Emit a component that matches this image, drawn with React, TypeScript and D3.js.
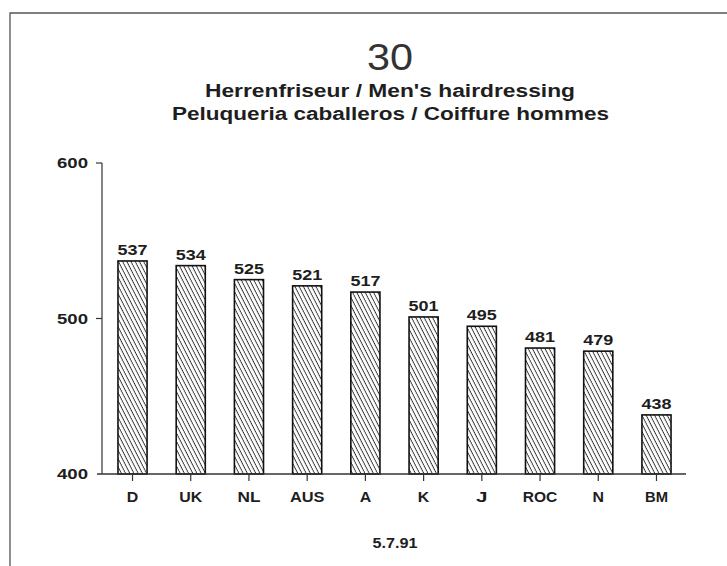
import React from "react";
import * as d3 from "d3";

const categories: string[] = ["D", "UK", "NL", "AUS", "A", "K", "J", "ROC", "N", "BM"];
const values: number[] = [537, 534, 525, 521, 517, 501, 495, 481, 479, 438];
const yTicks: number[] = [400, 500, 600];
const titleNumber = "30";
const subtitle1 = "Herrenfriseur / Men's hairdressing";
const subtitle2 = "Peluqueria caballeros / Coiffure hommes";
const dateLabel = "5.7.91";

const W = 727;
const H = 566;
const FONT = "'Liberation Sans', Arial, Helvetica, sans-serif";
const INK = "#1e1e1e";

export default function App() {
  const y = d3.scaleLinear().domain([400, 600]).range([474, 163]);
  const x = d3
    .scaleBand<string>()
    .domain(categories)
    .range([100.5, 688.5])
    .paddingInner(0.5)
    .paddingOuter(0.3);
  const bw = x.bandwidth();
  const axisX = 102;
  const baseY = y(400);

  return (
    <svg
      width={W}
      height={H}
      viewBox={`0 0 ${W} ${H}`}
      style={{ position: "absolute", left: 0, top: 0, background: "#fff" }}
    >
      <defs>
        <pattern
          id="hatch"
          patternUnits="userSpaceOnUse"
          width={4.2}
          height={4}
          patternTransform="skewX(27)"
        >
          <line x1={2} y1={0} x2={2} y2={4} stroke="#2a2a2a" strokeWidth={1} />
        </pattern>
      </defs>
      <rect x={0} y={0} width={W} height={H} fill="#fff" />
      {/* frame */}
      <path d={`M10,${H} L10,13 L${W},13`} fill="none" stroke="#555" strokeWidth={1.3} />

      {/* titles */}
      <text x={390} y={70} textAnchor="middle" fontFamily={FONT} fontSize={37} fill="#333"
        textLength={46} lengthAdjust="spacingAndGlyphs">
        {titleNumber}
      </text>
      <text x={390} y={97} textAnchor="middle" fontFamily={FONT} fontSize={18} fontWeight="bold" fill={INK}
        textLength={370} lengthAdjust="spacingAndGlyphs">
        {subtitle1}
      </text>
      <text x={390.5} y={120} textAnchor="middle" fontFamily={FONT} fontSize={18} fontWeight="bold" fill={INK}
        textLength={437} lengthAdjust="spacingAndGlyphs">
        {subtitle2}
      </text>

      {/* bars */}
      {categories.map((c, i) => {
        const x0 = x(c)!;
        const top = y(values[i]);
        return (
          <g key={c}>
            <rect x={x0} y={top} width={bw} height={baseY - top} fill="url(#hatch)" stroke="#111" strokeWidth={1.6} />
            <text x={x0 + bw / 2} y={top - 6} textAnchor="middle" fontFamily={FONT} fontSize={14.5}
              fontWeight="bold" fill={INK} textLength={30} lengthAdjust="spacingAndGlyphs">
              {String(values[i])}
            </text>
          </g>
        );
      })}

      {/* y axis */}
      <line x1={axisX} y1={y(600)} x2={axisX} y2={baseY} stroke="#333" strokeWidth={1.2} />
      {yTicks.map((t) => (
        <g key={t}>
          {t !== 400 && <line x1={axisX - 6} x2={axisX} y1={y(t)} y2={y(t)} stroke="#333" strokeWidth={1.2} />}
          <text x={88} y={y(t) + 5} textAnchor="end" fontFamily={FONT} fontSize={14} fontWeight="bold" fill={INK}
            textLength={31} lengthAdjust="spacingAndGlyphs">
            {String(t)}
          </text>
        </g>
      ))}

      {/* x axis */}
      <line x1={97} x2={686} y1={baseY} y2={baseY} stroke="#333" strokeWidth={1.3} />
      {categories.map((c) => {
        const cx = x(c)! + bw / 2;
        return (
          <g key={c}>
            <line x1={cx} x2={cx} y1={baseY} y2={baseY + 7} stroke="#333" strokeWidth={1.2} />
            <text x={cx} y={502} textAnchor="middle" fontFamily={FONT} fontSize={14.5} fontWeight="bold" fill={INK}
              textLength={c.length * 11.5} lengthAdjust="spacingAndGlyphs">
              {c}
            </text>
          </g>
        );
      })}

      <text x={395} y={548} textAnchor="middle" fontFamily={FONT} fontSize={14.5} fontWeight="bold" fill={INK}
        textLength={45} lengthAdjust="spacingAndGlyphs">
        {dateLabel}
      </text>
    </svg>
  );
}
